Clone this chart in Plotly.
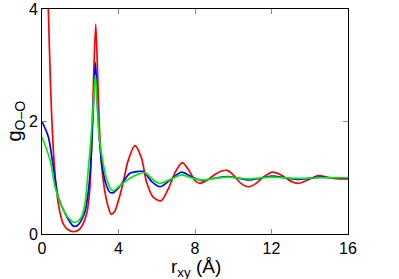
import plotly.graph_objects as go

# red series
r_red = [0.0, 0.2, 0.33, 0.45, 0.6, 0.77, 0.95, 1.11, 1.35, 1.64, 1.95, 2.16, 2.35, 2.5, 2.62, 2.7, 2.81,
         2.92, 3.0, 3.12, 3.29, 3.45, 3.62, 3.8, 4.0, 4.22, 4.5, 4.86, 5.2, 5.47, 5.8, 6.22, 6.6, 7.0,
         7.34, 7.7, 8.0, 8.26, 8.6, 9.0, 9.4, 9.69, 10.0, 10.4, 10.8, 11.2, 11.6, 12.06, 12.5, 13.0,
         13.4, 13.9, 14.45, 15.0, 15.5, 16.0]
g_red = [9.0, 5.6, 4.0, 2.6, 1.45, 0.75, 0.37, 0.18, 0.08, 0.04, 0.08, 0.19, 0.38, 0.8, 1.9, 2.8, 3.73,
         2.7, 1.9, 1.2, 0.75, 0.5, 0.35, 0.4, 0.6, 0.88, 1.3, 1.57, 1.35, 0.92, 0.66, 0.59, 0.8, 1.12,
         1.27, 1.12, 0.95, 0.9, 0.95, 1.05, 1.12, 1.13, 1.05, 0.9, 0.84, 0.9, 1.02, 1.1, 1.05, 0.94,
         0.9, 0.96, 1.04, 1.0, 0.98, 0.98]

# blue series
r_blue = [0.0, 0.33, 0.59, 0.85, 1.2, 1.64, 1.85, 2.07, 2.25, 2.42, 2.55, 2.68, 2.79, 2.9, 3.0, 3.15,
          3.35, 3.56, 3.75, 4.0, 4.22, 4.6, 5.0, 5.3, 5.74, 6.17, 6.7, 7.3, 7.8, 8.35, 9.0, 9.74, 10.3,
          10.8, 11.4, 12.0, 12.7, 13.4, 14.0, 14.5, 15.2, 16.0]
g_blue = [2.0, 1.73, 1.2, 0.66, 0.37, 0.14, 0.15, 0.25, 0.4, 0.75, 1.25, 2.2, 3.05, 2.3, 1.7, 1.2,
          0.88, 0.74, 0.74, 0.82, 0.92, 1.08, 1.11, 1.11, 0.93, 0.84, 0.96, 1.1, 1.02, 0.95, 0.99, 1.02,
          0.99, 0.96, 0.99, 1.03, 1.0, 0.97, 0.99, 1.01, 1.0, 0.99]

# green series
r_green = [0.0, 0.42, 0.68, 1.03, 1.3, 1.64, 1.85, 2.07, 2.25, 2.42, 2.55, 2.68, 2.79, 2.9, 3.0, 3.2,
           3.4, 3.64, 3.8, 4.0, 4.22, 4.6, 5.0, 5.38, 5.82, 6.17, 6.7, 7.3, 7.8, 8.4, 9.0, 9.8, 10.4,
           10.8, 12.0, 13.4, 14.5, 16.0]
g_green = [1.72, 1.32, 0.84, 0.49, 0.32, 0.21, 0.22, 0.31, 0.55, 1.15, 1.65, 2.3, 2.83, 2.2, 1.7, 1.25,
           0.95, 0.78, 0.78, 0.84, 0.9, 0.99, 1.06, 1.09, 0.96, 0.9, 0.97, 1.05, 1.0, 0.96, 0.99, 1.01, 0.99,
           0.98, 1.01, 0.99, 1.0, 1.0]

x_ticks = [0, 4, 8, 12, 16]
y_ticks = [0, 2, 4]
x_title = "r<sub>xy</sub> (Å)"
y_title = "g<sub>O–O</sub>"

fig = go.Figure()
for r, g, c in [(r_red, g_red, "#ff0000"), (r_blue, g_blue, "#0000ff"), (r_green, g_green, "#00ee00")]:
    fig.add_trace(go.Scatter(x=r, y=g, mode="lines", line=dict(color=c, width=1.7, shape="spline", smoothing=0.8),
                             showlegend=False, hoverinfo="skip"))

font = "Liberation Sans, Arial, sans-serif"
fig.update_layout(
    width=399, height=279,
    margin=dict(l=42, r=51, t=9, b=45),
    paper_bgcolor="white", plot_bgcolor="white",
    font=dict(family=font, color="black", size=16),
)
fig.update_xaxes(range=[0, 16], tickvals=x_ticks, ticks="inside", ticklen=5, tickcolor="#888888",
                 showline=True, linecolor="black", linewidth=1, mirror="ticks", showgrid=False, zeroline=False,
                 tickfont=dict(size=16), automargin=False)
fig.update_yaxes(range=[0, 4], tickvals=y_ticks, ticks="inside", ticklen=5, tickcolor="#888888",
                 showline=True, linecolor="black", linewidth=1, mirror="ticks", showgrid=False, zeroline=False,
                 tickfont=dict(size=16), automargin=False)
fig.add_annotation(text=x_title, xref="paper", yref="paper", x=0.503, y=-0.09, xanchor="center", yanchor="top",
                   showarrow=False, font=dict(size=19))
fig.add_annotation(text=y_title, xref="paper", yref="paper", x=-0.088, y=0.5, xanchor="center", yanchor="middle",
                   textangle=-90, showarrow=False, font=dict(size=20))
fig.write_html("out.html", config={"displayModeBar": False},
               post_script="document.body.style.margin='0';document.body.style.overflow='hidden';")
